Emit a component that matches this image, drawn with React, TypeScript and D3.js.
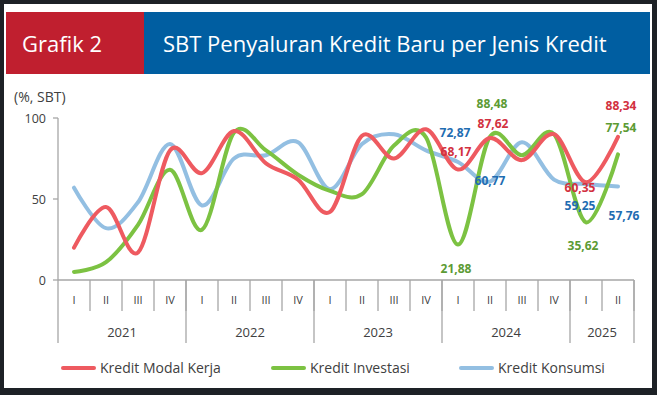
import React, { useRef, useEffect } from 'react';
import * as d3 from 'd3';

// quarters 2021Q1 .. 2025Q2
const quarters = ['I', 'II', 'III', 'IV', 'I', 'II', 'III', 'IV', 'I', 'II', 'III', 'IV', 'I', 'II', 'III', 'IV', 'I', 'II'];
const years = ['2021', '2022', '2023', '2024', '2025'];
const yearSpans = [4, 4, 4, 4, 2];

const modalKerja = [20, 45, 17, 80, 66, 92, 72, 62, 42, 89, 75, 93, 68.17, 87.62, 74, 90, 60.35, 88.34];
const investasi = [5, 11, 34, 68, 31, 91, 80, 65, 55, 53, 83, 88, 21.88, 88.48, 77, 90, 35.62, 77.54];
const konsumsi = [57, 32, 48, 84, 46, 75, 77, 85, 56, 84, 90, 80, 72.87, 60.77, 85, 62, 59.25, 57.76];

const yTicks = [0, 50, 100];

// labelled points: series index, quarter index, dx, dy
const labels = [
  { s: 2, i: 12, dx: -3, dy: -25 },
  { s: 0, i: 12, dx: -2, dy: -14 },
  { s: 1, i: 13, dx: 2, dy: -29 },
  { s: 0, i: 13, dx: 3, dy: -10 },
  { s: 2, i: 13, dx: 0, dy: 3 },
  { s: 1, i: 12, dx: -2, dy: 28 },
  { s: 0, i: 17, dx: 3, dy: -27 },
  { s: 1, i: 17, dx: 3, dy: -22 },
  { s: 0, i: 16, dx: -6, dy: 10 },
  { s: 2, i: 16, dx: -6, dy: 26 },
  { s: 2, i: 17, dx: 6, dy: 34 },
  { s: 1, i: 16, dx: -3, dy: 28 },
];

const names = ['Kredit Modal Kerja', 'Kredit Investasi', 'Kredit Konsumsi'];
const lineColors = ['#ee5a60', '#7cc242', '#93bfe2'];
const labelColors = ['#d2313f', '#5c9b34', '#1f6db2'];

const App: React.FC = () => {
  const ref = useRef<SVGSVGElement>(null);

  useEffect(() => {
    const svg = d3.select(ref.current);
    svg.selectAll('*').remove();
    const font = "'Open Sans', sans-serif";
    const series = [modalKerja, investasi, konsumsi];

    // frame
    svg.append('rect').attr('width', 657).attr('height', 395).attr('fill', '#1d2126');
    svg.append('rect').attr('x', 4).attr('y', 4).attr('width', 648).attr('height', 384).attr('fill', '#ffffff');
    svg.append('rect').attr('x', 6).attr('y', 12).attr('width', 138).attr('height', 62).attr('fill', '#c01f2f');
    svg.append('rect').attr('x', 144).attr('y', 12).attr('width', 506).attr('height', 62).attr('fill', '#005ea1');
    svg.append('text').attr('x', 22).attr('y', 52).attr('fill', '#fff')
      .style('font', `22px ${font}`).text('Grafik 2');
    svg.append('text').attr('x', 163).attr('y', 52).attr('fill', '#fff')
      .style('font', `22px ${font}`).text('SBT Penyaluran Kredit Baru per Jenis Kredit');

    const x = d3.scaleBand<number>().domain(d3.range(quarters.length)).range([58, 634]);
    const y = d3.scaleLinear().domain([0, 100]).range([280, 118]);
    const cx = (i: number) => (x(i) as number) + x.bandwidth() / 2;
    const axisColor = '#a6a6a6';
    const textColor = '#404040';

    svg.append('text').attr('x', 14).attr('y', 102).attr('fill', textColor)
      .style('font', `14px ${font}`).text('(%, SBT)');

    // y axis
    svg.append('line').attr('x1', 58).attr('x2', 58).attr('y1', y(100)).attr('y2', 343)
      .attr('stroke', axisColor).attr('stroke-width', 1.3);
    yTicks.forEach(t => {
      svg.append('line').attr('x1', 53).attr('x2', 58).attr('y1', y(t)).attr('y2', y(t))
        .attr('stroke', axisColor).attr('stroke-width', 1.3);
      svg.append('text').attr('x', 46).attr('y', y(t) + 4.5).attr('text-anchor', 'end')
        .attr('fill', textColor).style('font', `12.5px ${font}`).text(t);
    });

    // x axis
    svg.append('line').attr('x1', 58).attr('x2', 634).attr('y1', y(0)).attr('y2', y(0))
      .attr('stroke', axisColor).attr('stroke-width', 1.3);
    quarters.forEach((q, i) => {
      svg.append('line').attr('x1', (x(i) as number) + x.bandwidth()).attr('x2', (x(i) as number) + x.bandwidth())
        .attr('y1', y(0)).attr('y2', 311).attr('stroke', axisColor).attr('stroke-width', 1.3);
      svg.append('text').attr('x', cx(i)).attr('y', 304).attr('text-anchor', 'middle')
        .attr('fill', textColor).style('font', `11px ${font}`).text(q);
    });
    let start = 0;
    years.forEach((yr, k) => {
      const end = start + yearSpans[k];
      const x0 = x(start) as number;
      const x1 = end >= quarters.length ? 634 : (x(end) as number);
      svg.append('line').attr('x1', x1).attr('x2', x1).attr('y1', y(0)).attr('y2', 343)
        .attr('stroke', axisColor).attr('stroke-width', 1.3);
      svg.append('text').attr('x', (x0 + x1) / 2).attr('y', 337).attr('text-anchor', 'middle')
        .attr('fill', textColor).style('font', `13px ${font}`).text(yr);
      start = end;
    });

    // lines
    const line = d3.line<number>()
      .x((_, i) => cx(i))
      .y(d => y(d))
      .curve(d3.curveCardinal.tension(0));
    [2, 1, 0].forEach(s => {
      svg.append('path').datum(series[s]).attr('fill', 'none')
        .attr('stroke', lineColors[s]).attr('stroke-width', 4)
        .attr('stroke-linecap', 'round').attr('d', line);
    });

    // value labels
    labels.forEach(l => {
      const v = series[l.s][l.i];
      svg.append('text').attr('x', cx(l.i) + l.dx).attr('y', y(v) + l.dy)
        .attr('text-anchor', 'middle').attr('fill', labelColors[l.s])
        .style('font', `bold 12px ${font}`)
        .text(v.toFixed(2).replace('.', ','));
    });

    // legend
    const legendX = [63, 273, 461];
    names.forEach((n, s) => {
      svg.append('line').attr('x1', legendX[s]).attr('x2', legendX[s] + 31).attr('y1', 368).attr('y2', 368)
        .attr('stroke', lineColors[s]).attr('stroke-width', 4).attr('stroke-linecap', 'round');
      svg.append('text').attr('x', legendX[s] + 37).attr('y', 373).attr('fill', textColor)
        .style('font', `14px ${font}`).text(n);
    });
  }, []);

  return <svg ref={ref} width={657} height={395} style={{ position: 'absolute', left: 0, top: 0 }} />;
};

export default App;
